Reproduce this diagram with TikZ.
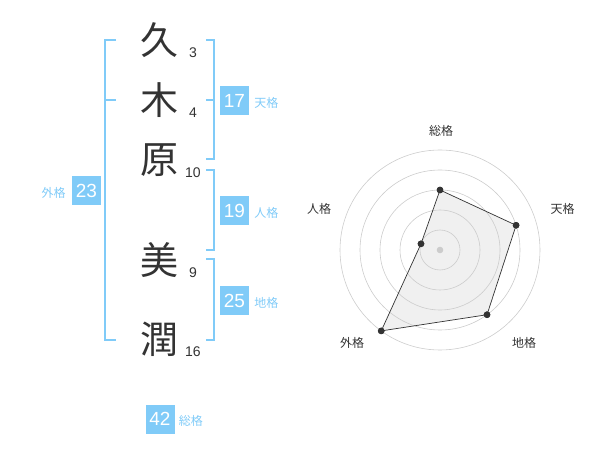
\documentclass[tikz,border=0pt]{standalone}
\usepackage{fontspec}
\setmainfont{Liberation Sans}
\newfontfamily\jp{Noto Sans CJK JP}
\usepackage{tikz}
\definecolor{kakublue}{HTML}{80CBF8}
\definecolor{kakugray}{HTML}{333333}
\tikzset{
    kanji/.style={font=\jp\fontsize{38}{38}\selectfont,text=kakugray,inner sep=0pt},
    kakusu/.style={font=\fontsize{14}{14}\selectfont,text=kakugray,inner sep=0pt},
    kakubox/.style={fill=kakublue,text=white,minimum size=29pt,inner sep=0pt,font=\fontsize{19}{19}\selectfont},
    kakulabel/.style={font=\jp\fontsize{12}{12}\selectfont,text=kakublue,inner sep=0pt},
    bracket/.style={draw=kakublue,line width=2pt},
    ring/.style={draw=black!20,line width=0.6pt},
    vertex/.style={circle,fill=kakugray,minimum size=6.6pt,inner sep=0pt},
    axislabel/.style={font=\jp\fontsize{12}{12}\selectfont,text=kakugray,inner sep=0pt}
}

\begin{document}
\begin{tikzpicture}[x=1pt,y=-1pt]
                            \useasboundingbox (0,0) rectangle (600,470);
                            \node[kanji] (c1) at (159,40) {久};
                            \node[kanji] (c2) at (159,100) {木};
                            \node[kanji] (c3) at (159,160) {原};
                            \node[kanji] (c4) at (159,260) {美};
                            \node[kanji] (c5) at (159,339) {潤};
                            \node[kakusu] (n1) at ([shift={(34,13)}]c1) {3};
                            \node[kakusu] (n2) at ([shift={(34,13)}]c2) {4};
                            \node[kakusu] (n3) at ([shift={(34,13)}]c3) {10};
                            \node[kakusu] (n4) at ([shift={(34,13)}]c4) {9};
                            \node[kakusu] (n5) at ([shift={(34,13)}]c5) {16};
                            \draw[bracket] (116,40) -- (105,40) -- (105,340) -- (116,340);
                            \draw[bracket] (105,100) -- (116,100);
                            \draw[bracket] (206,40) -- (214,40) -- (214,159) -- (206,159);
                            \draw[bracket] (206,100) -- (214,100);
                            \draw[bracket] (206,170) -- (214,170) -- (214,250) -- (206,250);
                            \draw[bracket] (206,259) -- (214,259) -- (214,340) -- (206,340);
                            \node[kakubox] (ten) at (234.5,100.5) {17};
                            \node[kakulabel,anchor=base west] (tenl) at ([xshift=5pt]ten.base east) {天格};
                            \node[kakubox] (jin) at (234.5,210.5) {19};
                            \node[kakulabel,anchor=base west] (jinl) at ([xshift=5pt]jin.base east) {人格};
                            \node[kakubox] (chi) at (234.5,300.5) {25};
                            \node[kakulabel,anchor=base west] (chil) at ([xshift=5pt]chi.base east) {地格};
                            \node[kakubox] (gai) at (86.5,190.5) {23};
                            \node[kakulabel,anchor=base east] (gail) at ([xshift=-6pt]gai.base west) {外格};
                            \node[kakubox] (sou) at (160,419) {42};
                            \node[kakulabel,anchor=base west] (soul) at ([xshift=4pt]sou.base east) {総格};
                            \begin{scope}[shift={(440,250)},yscale=-1]
                                \coordinate (p1) at (90:60);
                                \coordinate (p2) at (18:80);
                                \coordinate (p3) at (-54:80);
                                \coordinate (p4) at (-126:100);
                                \coordinate (p5) at (162:20);
                                \fill[black!6] (p1) -- (p2) -- (p3) -- (p4) -- (p5) -- cycle;
                                \foreach \r in {20,40,60,80,100}
                                    \draw[ring] (0,0) circle (\r);
                                \fill[black!20] (0,0) circle (3.3);
                                \foreach \i in {1,...,5}
                                    \node[vertex] (v\i) at (p\i) {};
                                \draw[kakugray,line width=0.7pt] (v1.center) -- (v2.center) -- (v3.center) -- (v4.center) -- (v5.center) -- cycle;
                                \foreach \i in {1,...,5}
                                    \fill[kakugray] (v\i) circle (3.3);
                            \end{scope}
                            \node[axislabel] (asou) at (441,131) {総格};
                            \node[axislabel] (aten) at (562.5,208.5) {天格};
                            \node[axislabel] (achi) at (524,342.5) {地格};
                            \node[axislabel] (agai) at (352,342.5) {外格};
                            \node[axislabel] (ajin) at (319,209) {人格};
                        \end{tikzpicture}
\end{document}
